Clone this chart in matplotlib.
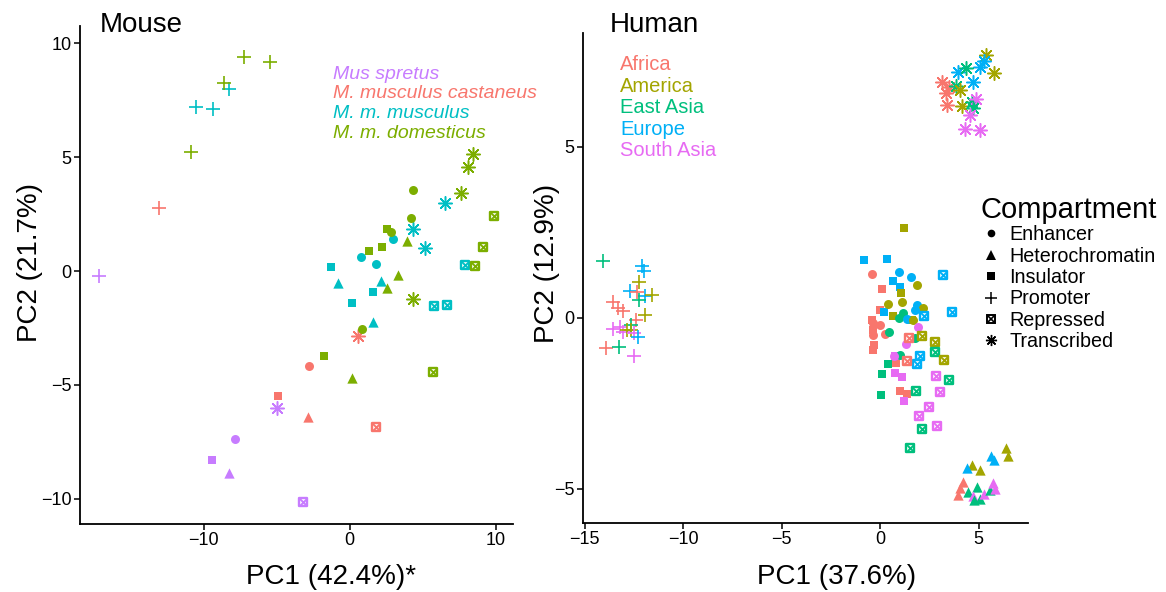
import matplotlib
matplotlib.use("Agg")
import matplotlib.pyplot as plt
from matplotlib.lines import Line2D

plt.rcParams['font.family'] = ['Liberation Sans', 'DejaVu Sans']

# -------- Mouse data --------
mouse_pc1 = [-17.2, -5.02, -7.88, -9.44, -8.29, -3.21,
             -13.1, 0.59, -2.79, -4.9, -2.84, 1.79,
             -8.29, -10.54, -9.39, 6.55, 4.31, 5.15, 3.0, 0.8, 1.79,
             -1.28, 1.6, 0.18, -0.8, 2.18, 1.63, 7.9, 5.8, 6.64,
             -7.27, -5.5, -8.63, -10.86, 8.48, 8.09, 7.63, 4.31,
             4.33, 4.19, 2.82, 0.87, 2.59, 2.2, 1.35, -1.76,
             3.92, 3.28, 2.54, 0.14, 9.92, 9.16, 8.59, 5.68]
mouse_pc2 = [-0.2, -6.02, -7.38, -8.29, -8.85, -10.15,
             2.75, -2.85, -4.17, -5.48, -6.39, -6.83,
             7.98, 7.18, 7.1, 3.0, 1.84, 0.99, 1.39, 0.6, 0.32,
             0.16, -0.94, -1.42, -0.51, -0.44, -2.25, 0.26, -1.54, -1.49,
             9.37, 9.15, 8.23, 5.2, 5.13, 4.58, 3.44, -1.24,
             3.55, 2.31, 1.7, -2.54, 1.83, 1.07, 0.89, -3.71,
             1.33, -0.18, -0.73, -4.68, 2.41, 1.07, 0.22, -4.42]
mouse_species = (["S"] * 6 + ["C"] * 6 + ["M"] * 18 + ["D"] * 24)
mouse_comp = (list("PTEIHR") + list("PTEIHR")
              + list("PPPTTTEEEIIIHHHRRR")
              + list("PPPPTTTTEEEEIIIIHHHHRRRR"))

species_names = ["Mus spretus", "M. musculus castaneus", "M. m. musculus", "M. m. domesticus"]
species_codes = ["S", "C", "M", "D"]
species_colors = ["#C77CFF", "#F8766D", "#00BFC4", "#7CAE00"]

# -------- Human data --------
human_pc1 = [
    # promoter
    -14.04, -12.1, -12.0, -12.23, -12.72, -12.35, -11.93, -11.59, -12.22, -13.54,
    -13.28, -13.06, -11.93, -12.39, -12.66, -13.54, -13.2, -13.06, -12.83, -12.66,
    -12.49, -12.27, -13.91, -13.23, -12.49,
    # transcribed
    5.38, 5.25, 5.08, 5.79, 3.93, 4.37, 3.13, 3.47, 3.35, 3.38,
    4.7, 3.86, 4.03, 4.15, 4.65, 4.87, 4.7, 4.57, 4.31, 5.08,
    # heterochromatin
    6.4, 6.46, 5.62, 5.79, 4.65, 4.4, 5.04, 4.2, 4.03, 3.93,
    4.48, 4.91, 4.7, 4.74, 5.04, 5.28, 5.55, 5.72, 5.84,
    # insulator
    1.23, -0.81, 0.37, 0.64, 0.08, 1.02, 1.07, -0.03, 0.17, 0.64,
    -0.42, -0.34, -0.3, -0.34, 1.61, 0.39, 0.08, 0.03, 0.76, 1.1,
    0.98, 1.35, 1.22, 0.81, 0.76,
    # enhancer
    -0.42, 0.96, 1.57, 1.89, 0.42, 1.12, 1.89, 2.17, 1.78, 1.18,
    0.93, 1.35, -0.34, 0.0, -0.37, 0.25, 0.47, 1.69, 1.94, 1.78,
    1.44, 1.32, 1.02, 0.68,
    # repressed
    3.21, 3.64, 2.23, 2.12, 1.47, 2.79, 2.79, 3.25, 2.03, 1.86,
    1.35, 2.83, 3.5, 3.01, 1.83, 2.5, 1.98, 2.88, 2.12, 1.49]
human_pc2 = [
    1.65, 1.52, 1.38, 1.06, 0.79, 0.77, 0.64, 0.67, 0.51, 0.45,
    0.28, 0.21, 0.09, -0.06, -0.2, -0.33, -0.27, -0.4, -0.35, -0.37,
    -0.45, -0.55, -0.89, -0.86, -1.11,
    7.69, 7.5, 7.35, 7.17, 7.18, 7.3, 6.91, 6.76, 6.57, 6.23,
    6.89, 6.78, 6.67, 6.2, 6.32, 6.39, 6.13, 5.94, 5.52, 5.48,
    -3.81, -4.04, -4.04, -4.15, -4.3, -4.4, -4.44, -4.79, -4.98, -5.18,
    -5.08, -4.95, -5.2, -5.34, -5.3, -5.15, -5.03, -4.83, -5.01,
    2.62, 1.7, 1.72, 1.09, 0.84, 0.9, 0.74, 0.23, 0.18, 0.06,
    -0.06, -0.35, -0.79, -0.94, -0.06, -1.35, -1.64, -2.26, -1.62, -1.73,
    -2.15, -2.22, -2.42, -1.33, -1.13,
    1.29, 1.33, 1.18, 0.96, 0.41, 0.45, 0.38, 0.28, 0.23, 0.14,
    -0.01, -0.04, -0.16, -0.2, -0.5, -0.47, -0.4, -0.06, -0.27, -0.6,
    -0.58, -0.77, -1.1, -1.13,
    1.24, 0.16, 0.06, -0.53, -0.58, -0.72, -1.01, -1.23, -1.11, -1.35,
    -1.25, -1.69, -1.83, -2.17, -2.15, -2.61, -2.87, -3.15, -3.26, -3.82]
human_pop = (
    ["EAS", "EUR", "EUR", "AMR", "EUR", "AFR", "EUR", "AMR", "EAS", "AFR",
     "AFR", "AFR", "AMR", "AFR", "EAS", "SAS", "SAS", "SAS", "AMR", "AMR",
     "SAS", "EUR", "AFR", "EAS", "SAS"]
    + ["AMR", "EUR", "EUR", "AMR", "EUR", "EAS", "AFR", "AFR", "AFR", "AFR",
       "EUR", "EAS", "AMR", "AMR", "EAS", "SAS", "EAS", "SAS", "SAS", "SAS"]
    + ["AMR", "AMR", "EUR", "EUR", "AMR", "EUR", "AMR", "AFR", "AFR", "AFR",
       "EAS", "EAS", "SAS", "EAS", "EAS", "SAS", "EAS", "SAS", "SAS"]
    + ["AMR", "EUR", "EUR", "EUR", "AFR", "EUR", "AMR", "AFR", "EUR", "AMR",
       "AFR", "AFR", "AFR", "AFR", "AMR", "EAS", "EAS", "EAS", "SAS", "SAS",
       "AFR", "AFR", "SAS", "AFR", "SAS"]
    + ["AFR", "EUR", "EUR", "AMR", "AMR", "AMR", "EUR", "AMR", "EUR", "EAS",
       "EAS", "EUR", "AFR", "AFR", "AFR", "AFR", "EAS", "AMR", "SAS", "EAS",
       "AFR", "SAS", "EAS", "SAS"]
    + ["EUR", "EUR", "EUR", "AMR", "AFR", "AMR", "EAS", "AMR", "EUR", "EUR",
       "AFR", "SAS", "EAS", "SAS", "EAS", "SAS", "SAS", "SAS", "EAS", "EAS"])
human_comp = (["P"] * 25 + ["T"] * 20 + ["H"] * 19 + ["I"] * 25 + ["E"] * 24 + ["R"] * 20)

pop_names = ["Africa", "America", "East Asia", "Europe", "South Asia"]
pop_codes = ["AFR", "AMR", "EAS", "EUR", "SAS"]
pop_colors = ["#F8766D", "#A3A500", "#00BF7D", "#00B0F6", "#E76BF3"]

comp_names = ["Enhancer", "Heterochromatin", "Insulator", "Promoter", "Repressed", "Transcribed"]
comp_codes = ["E", "H", "I", "P", "R", "T"]


def draw_point(ax, x, y, comp, color):
    if comp == "E":
        ax.scatter(x, y, marker="o", s=42, color=color, linewidths=0)
    elif comp == "H":
        ax.scatter(x, y, marker="^", s=55, color=color, linewidths=0)
    elif comp == "I":
        ax.scatter(x, y, marker="s", s=40, color=color, linewidths=0)
    elif comp == "P":
        ax.scatter(x, y, marker="+", s=95, color=color, linewidths=1.2)
    elif comp == "R":
        ax.scatter(x, y, marker="s", s=36, facecolor="white", edgecolor=color, linewidths=1.7)
        ax.scatter(x, y, marker="x", s=28, color=color, linewidths=1.4)
    elif comp == "T":
        ax.scatter(x, y, marker=(8, 2, 0), s=95, color=color, linewidths=1.1)


def style_axes(ax):
    for side in ["top", "right"]:
        ax.spines[side].set_visible(False)
    for side in ["left", "bottom"]:
        ax.spines[side].set_linewidth(1.3)
        ax.spines[side].set_color("black")
    ax.tick_params(direction="out", length=4, width=1.1, labelsize=13,
                   colors="black", pad=2)


fig = plt.figure(figsize=(11.66, 5.92), dpi=100)

# -------- Mouse panel --------
ax1 = fig.add_axes([80 / 1166, 68 / 592, 433 / 1166, 498 / 592])
mouse_color = dict(zip(species_codes, species_colors))
for x, y, sp, c in zip(mouse_pc1, mouse_pc2, mouse_species, mouse_comp):
    draw_point(ax1, x, y, c, mouse_color[sp])
ax1.set_xlim(-18.5, 11.2)
ax1.set_ylim(-11.1, 10.75)
ax1.set_xticks([-10, 0, 10])
ax1.set_yticks([-10, -5, 0, 5, 10])
style_axes(ax1)
for i, name in enumerate(species_names):
    ax1.text(0.584, 0.903 - i * 0.0395, name, transform=ax1.transAxes, color=species_colors[i],
             fontsize=14, style="italic", ha="left", va="center")

# -------- Human panel --------
ax2 = fig.add_axes([583 / 1166, 69 / 592, 445 / 1166, 490 / 592])
pop_color = dict(zip(pop_codes, pop_colors))
for x, y, p, c in zip(human_pc1, human_pc2, human_pop, human_comp):
    draw_point(ax2, x, y, c, pop_color[p])
ax2.set_xlim(-15.08, 7.5)
ax2.set_ylim(-6.0, 8.33)
ax2.set_xticks([-15, -10, -5, 0, 5])
ax2.set_yticks([-5, 0, 5])
style_axes(ax2)
for i, name in enumerate(pop_names):
    ax2.text(0.083, 0.935 - i * 0.0437, name, transform=ax2.transAxes, color=pop_colors[i],
             fontsize=14.5, ha="left", va="center")

# -------- titles and axis labels --------
fig.text(100 / 1166, 1 - 25 / 592, "Mouse", fontsize=20, ha="left", va="center")
fig.text(610 / 1166, 1 - 25 / 592, "Human", fontsize=20, ha="left", va="center")
fig.text(331 / 1166, 1 - 577 / 592, "PC1 (42.4%)*", fontsize=20, ha="center", va="center")
fig.text(837 / 1166, 1 - 577 / 592, "PC1 (37.6%)", fontsize=20, ha="center", va="center")
fig.text(30 / 1166, 1 - 262 / 592, "PC2 (21.7%)", fontsize=20, rotation=90, ha="center", va="center")
fig.text(547 / 1166, 1 - 263 / 592, "PC2 (12.9%)", fontsize=20, rotation=90, ha="center", va="center")

# -------- compartment legend --------
handles = [
    Line2D([], [], marker="o", ls="", color="black", markersize=5.5, markeredgewidth=0),
    Line2D([], [], marker="^", ls="", color="black", markersize=6.5, markeredgewidth=0),
    Line2D([], [], marker="s", ls="", color="black", markersize=5.5, markeredgewidth=0),
    Line2D([], [], marker="+", ls="", color="black", markersize=9, markeredgewidth=1.1),
    (Line2D([], [], marker="s", ls="", markerfacecolor="white", markeredgecolor="black",
            markersize=6, markeredgewidth=1.4),
     Line2D([], [], marker="x", ls="", color="black", markersize=5, markeredgewidth=1.2)),
    Line2D([], [], marker=(8, 2, 0), ls="", color="black", markersize=8, markeredgewidth=1.0),
]
leg = fig.legend(handles, comp_names, loc="upper left", bbox_to_anchor=(981 / 1166, 1 - 196 / 592),
                 frameon=False, title="Compartment", title_fontsize=21, fontsize=14.2,
                 labelspacing=0.12, handlelength=1.0, handletextpad=0.45, borderpad=0,
                 borderaxespad=0)
leg._legend_box.align = "left"
leg._legend_box.sep = 1

fig.savefig("out.png", dpi=100)
